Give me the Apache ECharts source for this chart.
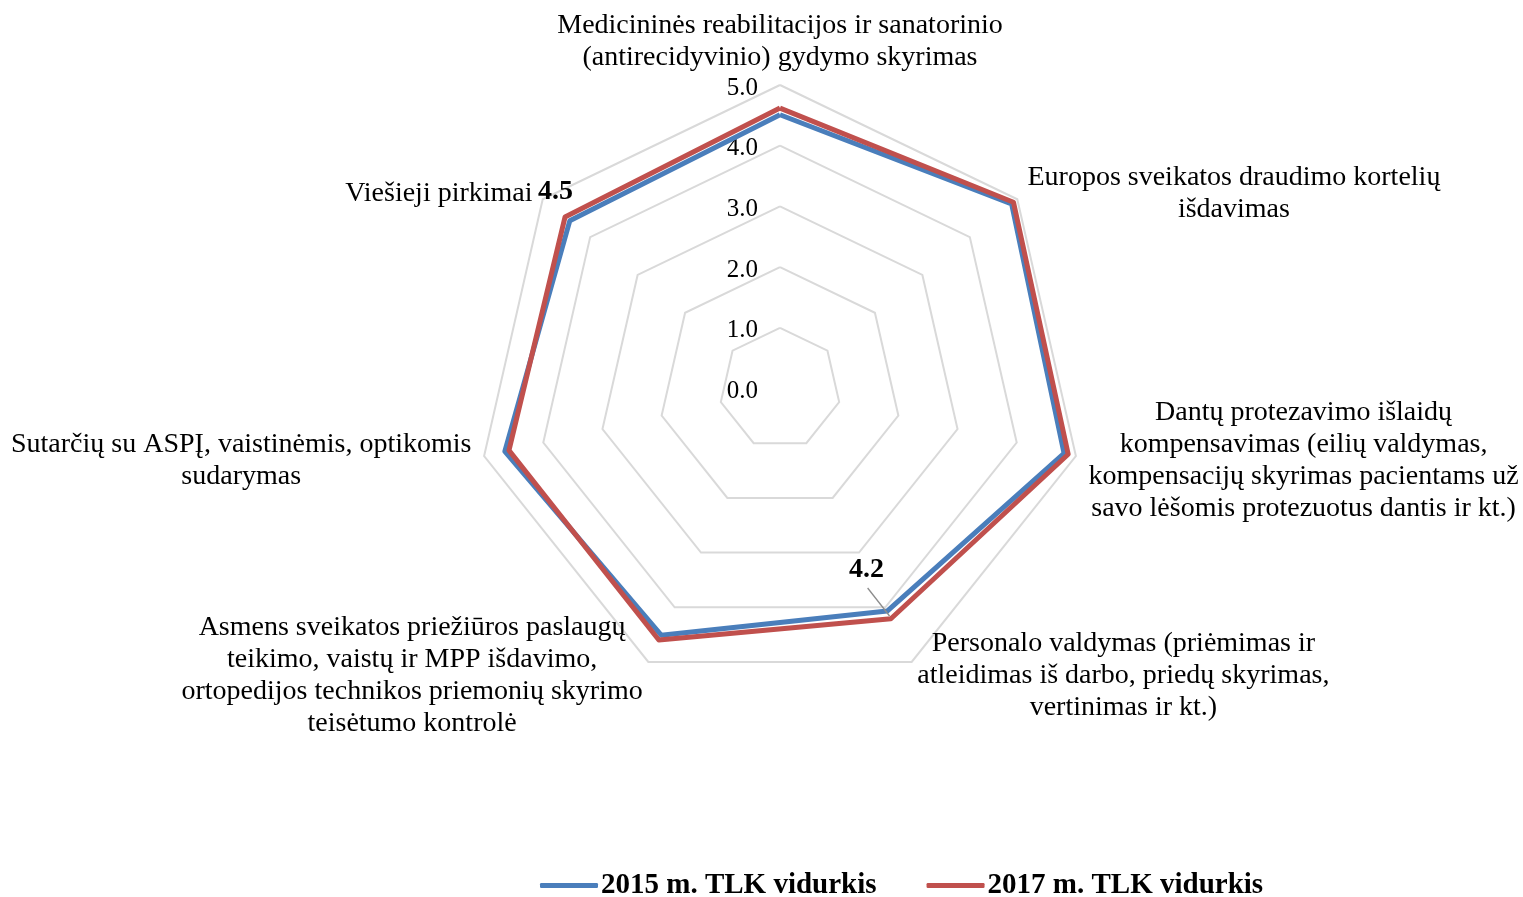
<!DOCTYPE html>
<html>
<head>
<meta charset="utf-8">
<script src="https://cdn.jsdelivr.net/npm/echarts@6/dist/echarts.min.js"></script>
<style>html,body{margin:0;padding:0;background:#fff;}#c{width:1523px;height:897px;}</style>
</head>
<body>
<div id="c"></div>
<script>
// Categories in clockwise order starting from the top
const categories = [
  'Medicininės reabilitacijos ir sanatorinio\n(antirecidyvinio) gydymo skyrimas',
  'Europos sveikatos draudimo kortelių\nišdavimas',
  'Dantų protezavimo išlaidų\nkompensavimas (eilių valdymas,\nkompensacijų skyrimas pacientams už\nsavo lėšomis protezuotus dantis ir kt.)',
  'Personalo valdymas (priėmimas ir\natleidimas iš darbo, priedų skyrimas,\nvertinimas ir kt.)',
  'Asmens sveikatos priežiūros paslaugų\nteikimo, vaistų ir MPP išdavimo,\nortopedijos technikos priemonių skyrimo\nteisėtumo kontrolė',
  'Sutarčių su ASPĮ, vaistinėmis, optikomis\nsudarymas',
  'Viešieji pirkimai'
];
const seriesNames = ['2015 m. TLK vidurkis', '2017 m. TLK vidurkis'];
const v2015 = [4.51, 4.88, 4.80, 4.07, 4.51, 4.65, 4.43];
const v2017 = [4.62, 4.92, 4.87, 4.21, 4.60, 4.58, 4.53];
const tickLabels = ['0.0', '1.0', '2.0', '3.0', '4.0', '5.0'];
const labelledA = 6; // "Viešieji pirkimai" value label (2017)
const labelledB = 3; // "Personalo valdymas" value label (2017)

const FONT = "'Liberation Serif','Times New Roman',serif";
const N = categories.length;
// ECharts radar goes counter-clockwise; reorder so the picture runs clockwise
const order = [0];
for (let i = N - 1; i >= 1; i--) order.push(i);
const reorder = arr => order.map(i => arr[i]);
const angleOf = i => i * 360 / N;

const chart = echarts.init(document.getElementById('c'));
const CENTER = [780, 388.5];
const RADIUS = 303.5;

const option = {
  backgroundColor: '#fff',
  animation: false,
  legend: {
    data: seriesNames,
    left: 535,
    top: 866,
    itemWidth: 58,
    itemHeight: 5,
    itemGap: 50,
    icon: 'roundRect',
    textStyle: { fontFamily: FONT, fontSize: 29, fontWeight: 'bold', color: '#000', padding: [0, 0, 0, -2] }
  },
  radar: {
    center: CENTER,
    radius: RADIUS,
    startAngle: 90,
    splitNumber: 5,
    shape: 'polygon',
    nameGap: 13,
    indicator: reorder(categories).map(n => ({ name: n, min: 0, max: 5 })),
    axisName: {
      color: '#000',
      fontFamily: FONT,
      fontSize: 28,
      lineHeight: 32,
      formatter: name => name.split('\n').map(l => '{c|' + l + '}{s|}').join('\n'),
      rich: {
        c: { align: 'center', fontFamily: FONT, fontSize: 28, lineHeight: 28, verticalAlign: 'bottom', color: '#000' },
        s: { align: 'center', fontFamily: FONT, fontSize: 28, lineHeight: 32 }
      }
    },
    axisLine: { show: false },
    axisTick: { show: false },
    axisLabel: { show: false },
    splitLine: { lineStyle: { color: '#d9d9d9', width: 2 } },
    splitArea: { show: false }
  },
  polar: { center: CENTER, radius: RADIUS },
  angleAxis: { type: 'value', min: 0, max: 360, startAngle: 90, clockwise: true, show: false },
  radiusAxis: {
    type: 'value', min: 0, max: 5, interval: 1,
    axisLine: { show: false }, axisTick: { show: false }, splitLine: { show: false },
    axisLabel: { formatter: v => tickLabels[Math.round(v)], fontFamily: FONT, fontSize: 25, color: '#000', margin: 22, verticalAlign: 'top', lineHeight: 6 }
  },
  series: [
    {
      name: seriesNames[0], type: 'radar', z: 2,
      symbol: 'none',
      lineStyle: { color: '#4a7ebb', width: 5 },
      itemStyle: { color: '#4a7ebb' },
      data: [{ name: seriesNames[0], value: reorder(v2015) }]
    },
    {
      name: seriesNames[1], type: 'radar', z: 3,
      symbol: 'circle', symbolSize: 1,
      lineStyle: { color: '#c0504d', width: 5 },
      itemStyle: { color: '#c0504d' },
      label: {
        show: true,
        position: [-9, -25], align: 'center', verticalAlign: 'middle',
        fontFamily: FONT, fontSize: 28, fontWeight: 'bold', color: '#000',
        formatter: p => p.dimensionIndex === order.indexOf(labelledA) ? p.value.toFixed(1) : ''
      },
      data: [{ name: seriesNames[1], value: reorder(v2017) }]
    },
    {
      name: 'lbl', type: 'radar', z: 4,
      symbol: 'circle', symbolSize: 1,
      lineStyle: { width: 0, opacity: 0 },
      itemStyle: { color: 'transparent' },
      label: {
        show: true,
        position: [-24, -48], align: 'center', verticalAlign: 'middle',
        fontFamily: FONT, fontSize: 28, fontWeight: 'bold', color: '#000',
        formatter: p => p.dimensionIndex === order.indexOf(labelledB) ? p.value.toFixed(1) : ''
      },
      data: [{ name: 'lbl', value: reorder(v2017) }]
    },
    {
      name: 'leader', type: 'line', coordinateSystem: 'polar', z: 5,
      symbol: 'none', silent: true,
      lineStyle: { color: '#8c8c8c', width: 1.3 },
      data: [[v2017[labelledB] - 0.05, angleOf(labelledB)], [v2017[labelledB] - 0.62, angleOf(labelledB) + 2]]
    }
  ]
};
chart.setOption(option);
</script>
</body>
</html>
